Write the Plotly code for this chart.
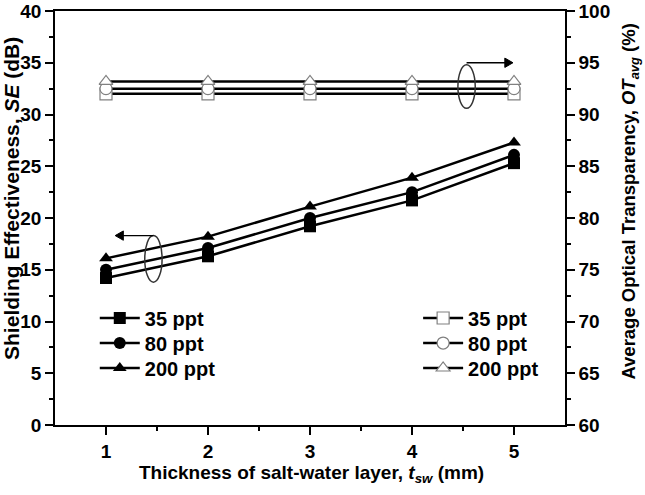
import plotly.graph_objects as go

thickness = [1, 2, 3, 4, 5]
series_names = ["35 ppt", "80 ppt", "200 ppt"]
se_35 = [14.2, 16.3, 19.2, 21.7, 25.3]
se_80 = [15.0, 17.1, 20.0, 22.5, 26.1]
se_200 = [16.1, 18.2, 21.1, 23.9, 27.3]
ot_35 = [92.0, 92.0, 92.0, 92.0, 92.0]
ot_80 = [92.5, 92.5, 92.5, 92.5, 92.5]
ot_200 = [93.2, 93.2, 93.2, 93.2, 93.2]
se_ticks = [0, 5, 10, 15, 20, 25, 30, 35, 40]
ot_ticks = [60, 65, 70, 75, 80, 85, 90, 95, 100]

FONT = "Arial, Liberation Sans, sans-serif"
fig = go.Figure()

se_data = [se_35, se_80, se_200]
ot_data = [ot_35, ot_80, ot_200]
symbols = ["square", "circle", "triangle-up"]
legend_rows_y = [0.2585, 0.198, 0.1377]

layout_legends = {}
for i, (name, ys, sym) in enumerate(zip(series_names, se_data, symbols)):
    key = "legend" if i == 0 else f"legend{i + 1}"
    fig.add_trace(go.Scatter(
        x=thickness, y=ys, name=f"<b>{name}</b>", mode="lines+markers",
        line=dict(color="black", width=2.5),
        marker=dict(symbol=sym, size=12, color="black"),
        legend=key, yaxis="y",
    ))
    layout_legends[key] = dict(x=0.078, y=legend_rows_y[i])

for i, (name, ys, sym) in enumerate(zip(series_names, ot_data, symbols)):
    key = f"legend{i + 4}"
    fig.add_trace(go.Scatter(
        x=thickness, y=ys, name=f"<b>{name}</b>", mode="lines+markers",
        line=dict(color="black", width=2.5),
        marker=dict(symbol=sym, size=12, color="white",
                    line=dict(color="#808080", width=1.2)),
        legend=key, yaxis="y2",
    ))
    layout_legends[key] = dict(x=0.712, y=legend_rows_y[i])

for key, pos in layout_legends.items():
    fig.update_layout({key: dict(
        x=pos["x"], y=pos["y"], xanchor="left", yanchor="middle",
        bgcolor="rgba(0,0,0,0)", borderwidth=0,
        font=dict(family=FONT, size=20, color="black"),
        itemwidth=40, tracegroupgap=0,
    )})

axis_common = dict(
    showgrid=False, zeroline=False, showline=True, linecolor="black",
    linewidth=1.5, ticks="outside", ticklen=8, tickwidth=1.5, tickcolor="black",
    tickfont=dict(family=FONT, size=19, color="black"), automargin=False,
)
minor_common = dict(ticks="outside", ticklen=4, tickwidth=1.5, tickcolor="black")

fig.update_layout(
    width=645, height=495,
    margin=dict(l=55, r=80, t=11, b=70),
    paper_bgcolor="white", plot_bgcolor="white",
    font=dict(family=FONT, color="black"),
    xaxis=dict(
        range=[0.5, 5.5], tickvals=thickness,
        ticktext=[f"<b>{v}</b>" for v in thickness],
        mirror=True,
        minor=dict(tickvals=[1.5, 2.5, 3.5, 4.5], **minor_common),
        **axis_common,
    ),
    yaxis=dict(
        range=[0, 40], tickvals=se_ticks,
        ticktext=[f"<b>{v}</b>" for v in se_ticks],
        minor=dict(tickvals=[2.5, 7.5, 12.5, 17.5, 22.5, 27.5, 32.5, 37.5], **minor_common),
        **axis_common,
    ),
    yaxis2=dict(
        overlaying="y", side="right", anchor="x",
        range=[60, 100], tickvals=ot_ticks,
        ticktext=[f"<b>{v}</b>" for v in ot_ticks],
        minor=dict(tickvals=[62.5, 67.5, 72.5, 77.5, 82.5, 87.5, 92.5, 97.5], **minor_common),
        **axis_common,
    ),
    showlegend=True,
)

# Axis titles as annotations
fig.add_annotation(xref="paper", yref="paper", x=0.502, y=-0.118,
                   text="<b>Thickness of salt-water layer, <i>t</i><sub><i>sw</i></sub> (mm)</b>",
                   showarrow=False, xanchor="center", yanchor="middle",
                   font=dict(family=FONT, size=19, color="black"))
fig.add_annotation(xref="paper", yref="paper", x=-0.0843, y=0.546, textangle=-90,
                   text="<b>Shielding Effectiveness, <i>SE</i> (dB)</b>",
                   showarrow=False, xanchor="center", yanchor="middle",
                   font=dict(family=FONT, size=21, color="black"))
fig.add_annotation(xref="paper", yref="paper", x=1.127, y=0.539, textangle=-90,
                   text="<b>Average Optical Transparency, <i>OT</i><sub><i>avg</i></sub> (%)</b>",
                   showarrow=False, xanchor="center", yanchor="middle",
                   font=dict(family=FONT, size=18.5, color="black"))

# Ellipse + arrow indicators
fig.add_shape(type="circle", xref="x", yref="y", x0=1.38, x1=1.55, y0=13.8, y1=18.3,
              line=dict(color="#333333", width=1.5))
fig.add_shape(type="line", xref="x", yref="y", x0=1.465, x1=1.15, y0=18.3, y1=18.3,
              line=dict(color="black", width=1.3))
fig.add_shape(type="path", xref="x", yref="y",
              path="M 1.09 18.3 L 1.17 18.75 L 1.17 17.85 Z",
              fillcolor="black", line=dict(color="black", width=1))

fig.add_shape(type="circle", xref="x", yref="y2", x0=4.45, x1=4.62, y0=90.6, y1=94.8,
              line=dict(color="#333333", width=1.5))
fig.add_shape(type="line", xref="x", yref="y2", x0=4.535, x1=4.92, y0=95.0, y1=95.0,
              line=dict(color="black", width=1.3))
fig.add_shape(type="path", xref="x", yref="y2",
              path="M 4.99 95.0 L 4.91 95.45 L 4.91 94.55 Z",
              fillcolor="black", line=dict(color="black", width=1))

fig.write_html("out.html", config={"displayModeBar": False},
               post_script="document.body.style.margin='0px';")
